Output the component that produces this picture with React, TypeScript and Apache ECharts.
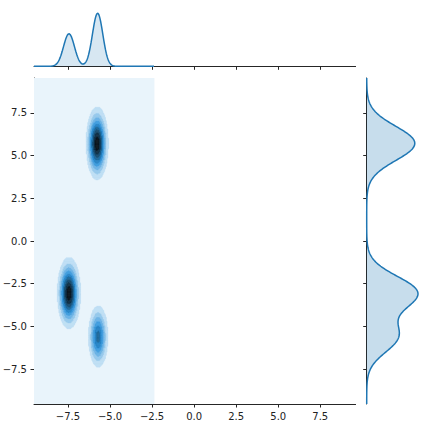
import React, { useEffect, useRef } from 'react';
import * as echarts from 'echarts';

// ---------- data ----------
const xTicks = [-7.5, -5, -2.5, 0, 2.5, 5, 7.5];
const yTicks = [-7.5, -5, -2.5, 0, 2.5, 5, 7.5];
const xRange = [-9.52, 9.6];
const yRange = [-9.55, 9.55];
const kdeXRange = [-9.52, -2.36];
const kdeYRange = [-9.55, 9.55];
// three density clusters of the joint KDE
const clusterX = [-5.76, -7.44, -5.7];
const clusterY = [5.72, -3.05, -5.6];
const clusterSdX = [0.31, 0.325, 0.3];
const clusterSdY = [1.0, 0.98, 0.93];
const clusterWeight = [1.0, 1.03, 0.59];
const contourLevels = [0, 0.02, 0.04, 0.06, 0.08, 0.1, 0.12, 0.14, 0.16, 0.18, 0.2];
const baseColor = '#1f77b4';
const topPeakFraction = 53 / 65;
const rightPeakFraction = 51.3 / 65;

// ---------- helpers ----------
const totalW = clusterWeight.reduce((a, b) => a + b, 0);
function gauss(v: number, m: number, s: number) {
  const z = (v - m) / s;
  return Math.exp(-0.5 * z * z) / (Math.sqrt(2 * Math.PI) * s);
}
function density2d(x: number, y: number) {
  let s = 0;
  for (let i = 0; i < clusterX.length; i++) {
    s += clusterWeight[i] * gauss(x, clusterX[i], clusterSdX[i]) * gauss(y, clusterY[i], clusterSdY[i]);
  }
  return s / totalW;
}
function densityX(x: number) {
  let s = 0;
  for (let i = 0; i < clusterX.length; i++) s += clusterWeight[i] * gauss(x, clusterX[i], clusterSdX[i]);
  return s / totalW;
}
function densityY(y: number) {
  let s = 0;
  for (let i = 0; i < clusterY.length; i++) s += clusterWeight[i] * gauss(y, clusterY[i], clusterSdY[i]);
  return s / totalW;
}

function rgbToHls(r: number, g: number, b: number) {
  const mx = Math.max(r, g, b), mn = Math.min(r, g, b);
  const l = (mx + mn) / 2;
  if (mx === mn) return [0, l, 0];
  const s = l <= 0.5 ? (mx - mn) / (mx + mn) : (mx - mn) / (2 - mx - mn);
  const rc = (mx - r) / (mx - mn), gc = (mx - g) / (mx - mn), bc = (mx - b) / (mx - mn);
  let h;
  if (r === mx) h = bc - gc;
  else if (g === mx) h = 2 + rc - bc;
  else h = 4 + gc - rc;
  h = ((h / 6) % 1 + 1) % 1;
  return [h, l, s];
}
function hlsToRgb(h: number, l: number, s: number) {
  if (s === 0) return [l, l, l];
  const m2 = l <= 0.5 ? l * (1 + s) : l + s - l * s;
  const m1 = 2 * l - m2;
  const v = (hue: number) => {
    hue = ((hue % 1) + 1) % 1;
    if (hue < 1 / 6) return m1 + (m2 - m1) * hue * 6;
    if (hue < 0.5) return m2;
    if (hue < 2 / 3) return m1 + (m2 - m1) * (2 / 3 - hue) * 6;
    return m1;
  };
  return [v(h + 1 / 3), v(h), v(h - 1 / 3)];
}
const baseRgb = [0x1f / 255, 0x77 / 255, 0xb4 / 255];
const [bh, , bs] = rgbToHls(baseRgb[0], baseRgb[1], baseRgb[2]);
const anchors: number[][] = [];
for (let k = 0; k < 12; k++) anchors.push(hlsToRgb(bh, 1 - k / 11, bs));
function cmap(t: number) {
  const pos = Math.min(Math.max(t, 0), 1) * 11;
  const i = Math.min(Math.floor(pos), 10);
  const f = pos - i;
  const c = anchors[i].map((a, j) => a + (anchors[i + 1][j] - a) * f);
  return '#' + c.map((v) => Math.round(v * 255).toString(16).padStart(2, '0')).join('');
}
const nBands = contourLevels.length - 1;
const bandColors = Array.from({ length: nBands }, (_, i) => cmap((i + 0.5) / nBands));
function bandOf(v: number) {
  let b = 0;
  for (let i = 1; i < contourLevels.length - 1; i++) if (v >= contourLevels[i]) b = i;
  return b;
}

// build filled contour cells (row runs)
const NX = 150, NY = 390;
const dx = (kdeXRange[1] - kdeXRange[0]) / NX;
const dy = (kdeYRange[1] - kdeYRange[0]) / NY;
const cells: number[][] = [[kdeXRange[0], kdeXRange[1], kdeYRange[0], kdeYRange[1], 0]];
for (let j = 0; j < NY; j++) {
  const yb = kdeYRange[0] + j * dy;
  const yc = yb + dy / 2;
  let runStart = -1, runBand = 0;
  for (let i = 0; i <= NX; i++) {
    const b = i < NX ? bandOf(density2d(kdeXRange[0] + (i + 0.5) * dx, yc)) : 0;
    if (b !== runBand) {
      if (runBand > 0) cells.push([kdeXRange[0] + runStart * dx, kdeXRange[0] + i * dx, yb, yb + dy, runBand]);
      runBand = b;
      runStart = i;
    }
  }
}

const margXPts: number[][] = [];
for (let i = 0; i <= 300; i++) {
  const x = kdeXRange[0] + ((kdeXRange[1] - kdeXRange[0]) * i) / 300;
  margXPts.push([x, densityX(x)]);
}
const margYPts: number[][] = [];
for (let i = 0; i <= 400; i++) {
  const y = kdeYRange[0] + ((kdeYRange[1] - kdeYRange[0]) * i) / 400;
  margYPts.push([densityY(y), y]);
}
const topMax = Math.max(...margXPts.map((p) => p[1])) / topPeakFraction;
const rightMax = Math.max(...margYPts.map((p) => p[0])) / rightPeakFraction;

const fmt = (v: number) => {
  const s = Math.abs(v).toFixed(1);
  return v < -1e-9 ? '\u2212' + s : s;
};
const spine = { color: '#262626', width: 1 };
const fillColor = 'rgba(31,119,180,0.25)';

export default function App() {
  const ref = useRef<HTMLDivElement>(null);
  useEffect(() => {
    document.body.style.margin = '0';
    const chart = echarts.init(ref.current!, undefined, { renderer: 'svg' });
    const labelStyle = { fontSize: 10, fontFamily: 'DejaVu Sans', color: '#222', margin: 7 };
    chart.setOption({
      animation: false,
      backgroundColor: '#ffffff',
      grid: [
        { left: 34, top: 78, width: 321.6, height: 326, outerBoundsMode: 'none' },
        { left: 34, top: 1.3, width: 321.6, height: 65, outerBoundsMode: 'none' },
        { left: 366.7, top: 78, width: 65, height: 326, outerBoundsMode: 'none' },
      ],
      xAxis: [
        {
          type: 'value', gridIndex: 0, min: xRange[0], max: xRange[1],
          axisLine: { show: true, onZero: false, lineStyle: spine },
          axisTick: { show: true, length: 3.5, customValues: xTicks, lineStyle: spine },
          axisLabel: { show: true, customValues: xTicks, formatter: fmt, ...labelStyle },
          splitLine: { show: false },
        },
        {
          type: 'value', gridIndex: 1, min: xRange[0], max: xRange[1],
          axisLine: { show: true, onZero: false, lineStyle: spine },
          axisTick: { show: true, length: 3.5, customValues: xTicks, lineStyle: spine },
          axisLabel: { show: false },
          splitLine: { show: false },
        },
        {
          type: 'value', gridIndex: 2, min: 0, max: rightMax, show: false,
          splitLine: { show: false },
        },
      ],
      yAxis: [
        {
          type: 'value', gridIndex: 0, min: yRange[0], max: yRange[1],
          axisLine: { show: true, onZero: false, lineStyle: spine },
          axisTick: { show: true, length: 3.5, customValues: yTicks, lineStyle: spine },
          axisLabel: { show: true, customValues: yTicks, formatter: fmt, ...labelStyle },
          splitLine: { show: false },
        },
        {
          type: 'value', gridIndex: 1, min: 0, max: topMax, show: false,
          splitLine: { show: false },
        },
        {
          type: 'value', gridIndex: 2, min: yRange[0], max: yRange[1],
          axisLine: { show: true, onZero: false, lineStyle: spine },
          axisTick: { show: true, length: 3.5, customValues: yTicks, lineStyle: spine },
          axisLabel: { show: false },
          splitLine: { show: false },
        },
      ],
      series: [
        {
          type: 'custom', xAxisIndex: 0, yAxisIndex: 0, data: cells, silent: true, clip: true,
          progressive: 0,
          dimensions: ['x0', 'x1', 'y0', 'y1', 'band'],
          encode: { x: [0, 1], y: [2, 3] },
          renderItem: (params: any, api: any) => {
            const x0 = api.value(0), x1 = api.value(1), y0 = api.value(2), y1 = api.value(3);
            const b = api.value(4);
            const p0 = api.coord([x0, y1]);
            const p1 = api.coord([x1, y0]);
            const c = bandColors[b];
            return {
              type: 'rect',
              shape: { x: p0[0], y: p0[1], width: p1[0] - p0[0], height: p1[1] - p0[1] },
              style: b > 0 ? { fill: c, stroke: c, lineWidth: 0.4 } : { fill: c },
            };
          },
        },
        {
          type: 'line', xAxisIndex: 1, yAxisIndex: 1, data: margXPts, symbol: 'none', showSymbol: false,
          silent: true, lineStyle: { color: baseColor, width: 1.5 }, areaStyle: { color: fillColor },
          z: 3,
        },
        {
          type: 'custom', xAxisIndex: 2, yAxisIndex: 2, data: margYPts, silent: true, clip: false,
          encode: { x: 0, y: 1 },
          renderItem: (params: any, api: any) => {
            if (params.dataIndex !== 0) return null;
            const pts = margYPts.map((p) => api.coord(p));
            const b0 = api.coord([0, margYPts[0][1]]);
            const b1 = api.coord([0, margYPts[margYPts.length - 1][1]]);
            return {
              type: 'group',
              children: [
                { type: 'polygon', shape: { points: [b0, ...pts, b1] }, style: { fill: fillColor } },
                { type: 'polyline', shape: { points: pts }, style: { stroke: baseColor, lineWidth: 1.5, fill: null } },
              ],
            };
          },
        },
      ],
    });
    return () => chart.dispose();
  }, []);
  return <div ref={ref} style={{ position: 'fixed', left: 0, top: 0, width: 432, height: 432 }} />;
}
